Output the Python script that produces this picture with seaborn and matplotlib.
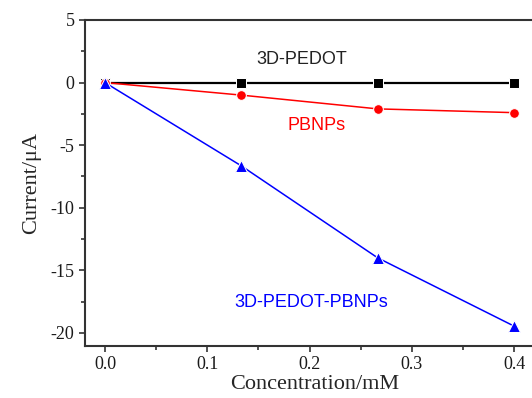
import numpy as np
import pandas as pd
import matplotlib
matplotlib.use("Agg")
import matplotlib.pyplot as plt
from matplotlib.ticker import MultipleLocator
import seaborn as sns

sns.set_style("ticks")

conc = [0.0, 0.1333, 0.2667, 0.4]
pedot = [0.0, 0.0, 0.0, 0.0]
pbnps = [0.0, -1.0, -2.1, -2.4]
pedot_pbnps = [0.0, -6.65, -14.0, -19.45]
series_names = ["3D-PEDOT", "PBNPs", "3D-PEDOT-PBNPs"]

df = pd.DataFrame({
    "conc": conc * 3,
    "current": pedot + pbnps + pedot_pbnps,
    "sample": np.repeat(series_names, len(conc)),
})

palette = {"3D-PEDOT": "black", "PBNPs": "#ff0000", "3D-PEDOT-PBNPs": "#0000ff"}
markers = {"3D-PEDOT": "s", "PBNPs": "o", "3D-PEDOT-PBNPs": "^"}

fig = plt.figure(figsize=(5.32, 3.98), dpi=100)
ax = fig.add_axes([85 / 532, 1 - 346 / 398, 460 / 532, 326 / 398])

sns.lineplot(data=df, x="conc", y="current", hue="sample", style="sample",
             palette=palette, markers=markers, dashes=False, markersize=7,
             linewidth=1.1, legend=False, ax=ax)
ax.lines[0].set_linewidth(1.6)
ax.lines[2].set_markersize(8.5)

ax.set_xlim(-0.01956, 0.4303)
ax.set_ylim(-21.04, 5)
ax.xaxis.set_major_locator(MultipleLocator(0.1))
ax.xaxis.set_minor_locator(MultipleLocator(0.05))
ax.yaxis.set_major_locator(MultipleLocator(5))
ax.yaxis.set_minor_locator(MultipleLocator(2.5))
ax.set_xticks([0.0, 0.1, 0.2, 0.3, 0.4])
ax.set_xticklabels(["0.0", "0.1", "0.2", "0.3", "0.4"])
ax.set_yticks([5, 0, -5, -10, -15, -20])
ax.set_yticklabels(["5", "0", "-5", "-10", "-15", "-20"])

serif = "Liberation Serif"
for lab in ax.get_xticklabels() + ax.get_yticklabels():
    lab.set_fontfamily(serif)
    lab.set_fontsize(13)
    lab.set_color("#1a1a1a")
ax.tick_params(which="major", direction="out", length=4, width=1.2, color="#333333")
ax.tick_params(which="minor", direction="out", length=3, width=1.2, color="#333333")
for s in ax.spines.values():
    s.set_linewidth(1.5)
    s.set_color("#333333")

ax.set_xlabel("Concentration/mM", fontfamily=serif, fontsize=16, labelpad=1)
ax.set_ylabel("Current/\u03bcA", fontfamily=serif, fontsize=16, labelpad=7)

sans = "Liberation Sans"
ax.text(0.1927, 1.88, "3D-PEDOT", color="#222222", fontfamily=sans, fontsize=13,
        ha="center", va="center")
ax.text(0.2073, -3.39, "PBNPs", color="#ff0000", fontfamily=sans, fontsize=13,
        ha="center", va="center")
ax.text(0.2015, -17.6, "3D-PEDOT-PBNPs", color="#0000ff", fontfamily=sans, fontsize=13,
        ha="center", va="center")

fig.savefig("out.png", dpi=100)
